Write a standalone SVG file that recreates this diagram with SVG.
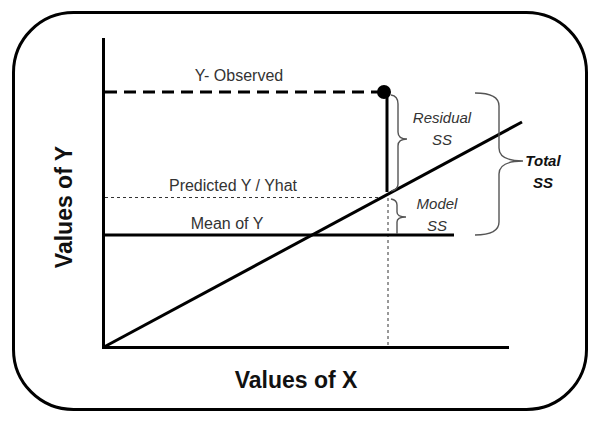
<svg xmlns="http://www.w3.org/2000/svg" width="602" height="421" viewBox="0 0 602 421">
<style>
.t{font-family:"Liberation Sans",Arial,sans-serif;font-size:16px;fill:#333;text-anchor:middle}
.i{font-style:italic;font-size:15px}
.b{font-weight:bold;fill:#111}
.ax{font-family:"Liberation Sans",Arial,sans-serif;font-weight:bold;font-size:23px;fill:#111;text-anchor:middle}
.thick{stroke:#000;stroke-width:3;fill:none}
.brace{stroke:#555;stroke-width:1.4;fill:none}
</style>
<rect x="13.5" y="12.5" width="573" height="397" rx="60" ry="60" fill="#fff" stroke="#000" stroke-width="3"/>
<g id="axes">
<line class="thick" x1="103.5" y1="38" x2="103.5" y2="348"/>
<line class="thick" x1="102" y1="347.5" x2="509" y2="347.5"/>
</g>
<g id="connectors">
<line x1="105" y1="92" x2="380" y2="92" stroke="#000" stroke-width="3" stroke-dasharray="12,7"/>
<line x1="105" y1="197.5" x2="387" y2="197.5" stroke="#333" stroke-width="1" stroke-dasharray="3,3"/>
<line x1="388" y1="198" x2="388" y2="346" stroke="#333" stroke-width="1" stroke-dasharray="3,3"/>
<line class="thick" x1="103" y1="235" x2="454" y2="235"/>
<line class="thick" x1="387" y1="92" x2="387" y2="192"/>
<line class="thick" x1="104" y1="347" x2="522" y2="122"/>
</g>
<g id="observed-point"><circle cx="384" cy="92" r="7" fill="#000"/></g>
<g id="braces">
<path class="brace" d="M391,95 Q398,96 398,104 L398,132 Q398,139 407,139 Q398,139 398,146 L398,184 Q398,190 391,191"/>
<path class="brace" d="M391,199 Q397,200 397,205 L397,212 Q397,217 406,217 Q397,217 397,222 L397,234"/>
<path class="brace" d="M475,93 Q499,93 499,106 L499,148 Q499,161 523,161 Q499,161 499,174 L499,222 Q499,235 475,235"/>
</g>
<g id="labels">
<text class="t" x="239" y="81">Y- Observed</text>
<text class="t" x="233" y="191">Predicted Y / Yhat</text>
<text class="t" x="227" y="229">Mean of Y</text>
<text class="t i" x="442" y="123">Residual</text>
<text class="t i" x="442" y="145">SS</text>
<text class="t i" x="437" y="209">Model</text>
<text class="t i" x="437" y="231">SS</text>
<text class="t i b" x="543" y="166">Total</text>
<text class="t i b" x="543" y="188">SS</text>
<text class="ax" x="296" y="388">Values of X</text>
<text class="ax" transform="translate(72,207) rotate(-90)" x="0" y="0">Values of Y</text>
</g>
</svg>
